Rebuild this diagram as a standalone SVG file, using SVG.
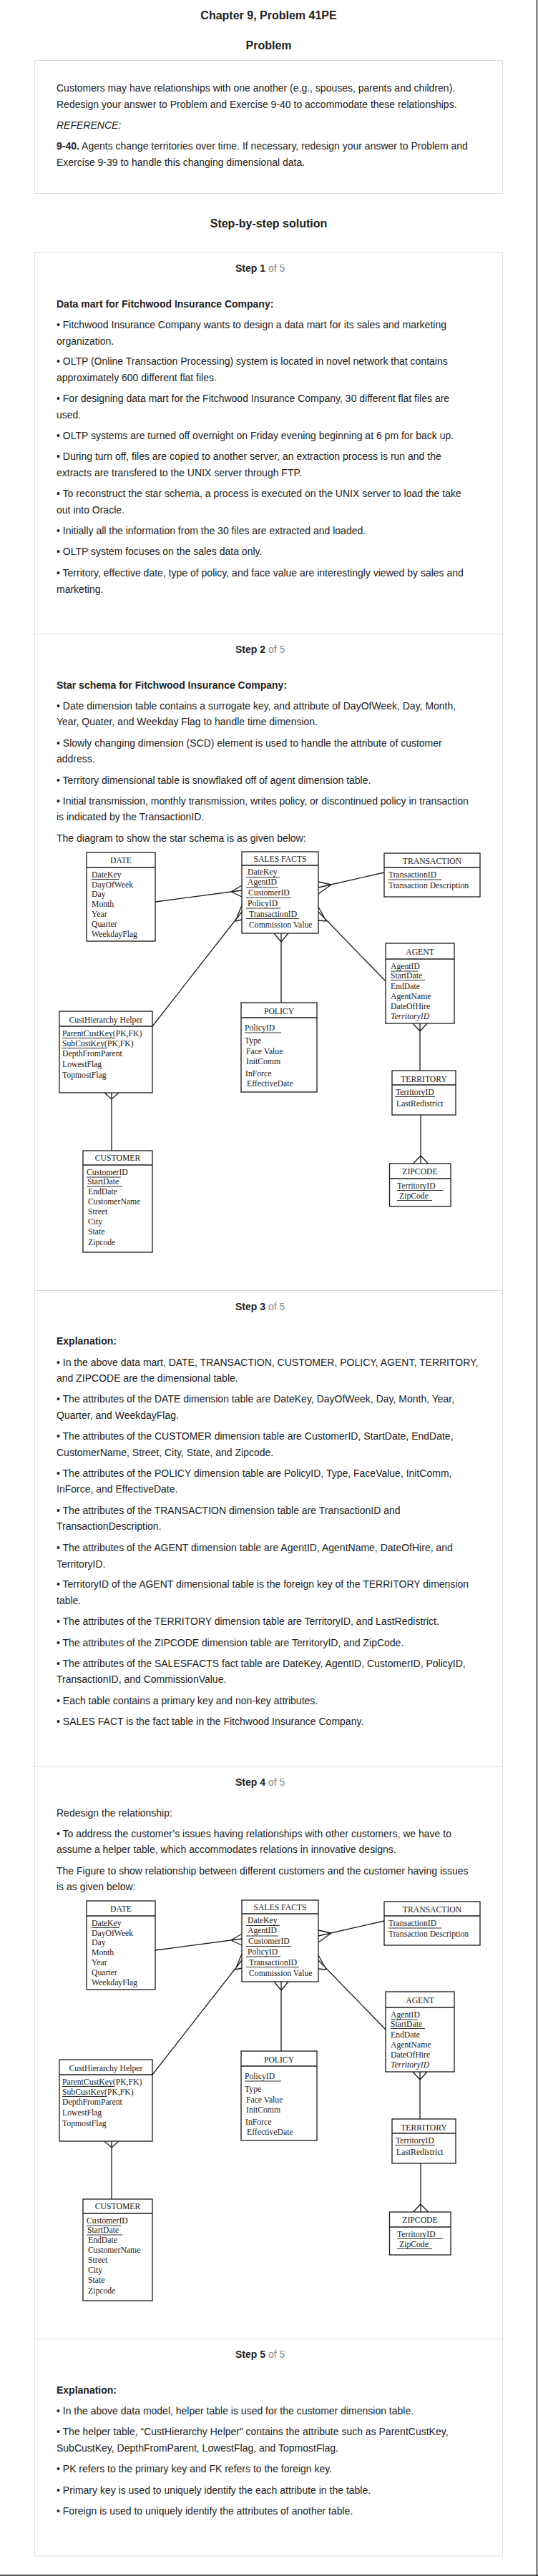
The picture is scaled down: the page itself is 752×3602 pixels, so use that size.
<svg xmlns="http://www.w3.org/2000/svg" width="752" height="3602" viewBox="0 0 752 3602">
<style>
.t{font-family:"Liberation Sans",Arial,sans-serif;font-size:14px;fill:#222}
.b{font-weight:bold}
.i{font-style:italic}
.h{font-family:"Liberation Sans",Arial,sans-serif;font-size:16px;font-weight:bold;fill:#222;text-anchor:middle}
.g{fill:#888;font-weight:normal}
.d{font-family:"Liberation Serif","Times New Roman",serif;font-size:11.7px;fill:#1a1a1a}
.dc{text-anchor:middle}
.box{fill:#fff;stroke:#1a1a1a;stroke-width:1.3}
.sep{stroke:#1a1a1a;stroke-width:1.3}
.ul{stroke:#1a1a1a;stroke-width:0.9}
.cn{stroke:#1a1a1a;stroke-width:1.3;fill:none}
.frame{fill:none;stroke:#dcdcdc;stroke-width:1}
</style>
<rect x="0" y="0" width="752" height="3602" fill="#fff"/>
<g id="page-frame">
  <line x1="750.5" y1="0" x2="750.5" y2="3602" stroke="#1a1a1a" stroke-width="1.4"/>
  <line x1="0" y1="3601" x2="752" y2="3601" stroke="#1a1a1a" stroke-width="1.6"/>
</g>
<g id="headings">
  <text class="h" x="375.5" y="27">Chapter 9, Problem 41PE</text>
  <text class="h" x="375.5" y="69">Problem</text>
  <text class="h" x="375.5" y="318">Step-by-step solution</text>
</g>
<g id="problem-box">
  <rect class="frame" x="48.5" y="84.5" width="654" height="186"/>
  <text class="t" x="79" y="128">Customers may have relationships with one another (e.g., spouses, parents and children).</text>
  <text class="t" x="79" y="151">Redesign your answer to Problem and Exercise 9-40 to accommodate these relationships.</text>
  <text class="t i" x="79" y="180">REFERENCE:</text>
  <text class="t" x="79" y="209"><tspan class="b">9-40.</tspan> Agents change territories over time. If necessary, redesign your answer to Problem and</text>
  <text class="t" x="79" y="232">Exercise 9-39 to handle this changing dimensional data.</text>
</g>
<g id="steps-frame">
  <rect class="frame" x="48.5" y="353.5" width="654" height="3220.5"/>
  <line class="frame" x1="48.5" y1="886.5" x2="702.5" y2="886.5"/>
  <line class="frame" x1="48.5" y1="1804.5" x2="702.5" y2="1804.5"/>
  <line class="frame" x1="48.5" y1="2470.5" x2="702.5" y2="2470.5"/>
  <line class="frame" x1="48.5" y1="3270.5" x2="702.5" y2="3270.5"/>
</g>
<g id="step1">
  <text class="t b" x="329" y="380">Step 1<tspan class="g"> of 5</tspan></text>
  <text class="t b" x="79" y="430">Data mart for Fitchwood Insurance Company:</text>
  <text class="t" x="79" y="459">• Fitchwood Insurance Company wants to design a data mart for its sales and marketing</text>
  <text class="t" x="79" y="482">organization.</text>
  <text class="t" x="79" y="510">• OLTP (Online Transaction Processing) system is located in novel network that contains</text>
  <text class="t" x="79" y="533">approximately 600 different flat files.</text>
  <text class="t" x="79" y="562">• For designing data mart for the Fitchwood Insurance Company, 30 different flat files are</text>
  <text class="t" x="79" y="585">used.</text>
  <text class="t" x="79" y="614">• OLTP systems are turned off overnight on Friday evening beginning at 6 pm for back up.</text>
  <text class="t" x="79" y="643">• During turn off, files are copied to another server, an extraction process is run and the</text>
  <text class="t" x="79" y="666">extracts are transfered to the UNIX server through FTP.</text>
  <text class="t" x="79" y="695">• To reconstruct the star schema, a process is executed on the UNIX server to load the take</text>
  <text class="t" x="79" y="718">out into Oracle.</text>
  <text class="t" x="79" y="747">• Initially all the information from the 30 files are extracted and loaded.</text>
  <text class="t" x="79" y="776">• OLTP system focuses on the sales data only.</text>
  <text class="t" x="79" y="806">• Territory, effective date, type of policy, and face value are interestingly viewed by sales and</text>
  <text class="t" x="79" y="829">marketing.</text>
</g>
<g id="step2">
  <text class="t b" x="329" y="913">Step 2<tspan class="g"> of 5</tspan></text>
  <text class="t b" x="79" y="963">Star schema for Fitchwood Insurance Company:</text>
  <text class="t" x="79" y="992">• Date dimension table contains a surrogate key, and attribute of DayOfWeek, Day, Month,</text>
  <text class="t" x="79" y="1014">Year, Quater, and Weekday Flag to handle time dimension.</text>
  <text class="t" x="79" y="1044">• Slowly changing dimension (SCD) element is used to handle the attribute of customer</text>
  <text class="t" x="79" y="1066">address.</text>
  <text class="t" x="79" y="1096">• Territory dimensional table is snowflaked off of agent dimension table.</text>
  <text class="t" x="79" y="1125">• Initial transmission, monthly transmission, writes policy, or discontinued policy in transaction</text>
  <text class="t" x="79" y="1147">is indicated by the TransactionID.</text>
  <text class="t" x="79" y="1177">The diagram to show the star schema is as given below:</text>
</g>
<g id="s2-diagram">
  <g id="s2-connectors">
    <path class="cn" d="M217,1261 L338,1245 M323,1247 L338,1238 M323,1247 L338,1254"/>
    <path class="cn" d="M213,1435 L338,1275 M329,1288 L338,1266 M329,1288 L338,1286"/>
    <path class="cn" d="M537,1220 L445,1241 M463,1237 L445,1233 M463,1237 L445,1250"/>
    <path class="cn" d="M539,1372 L445,1275 M456,1288 L445,1268 M456,1288 L445,1287"/>
    <path class="cn" d="M393,1305 L393,1402 M383,1305 L393,1317 L403,1305"/>
    <path class="cn" d="M587,1431 L587,1497 M577,1431 L587,1442 L597,1431"/>
    <path class="cn" d="M588,1559 L588,1627 M577.5,1627 L588,1616 L598.5,1627"/>
    <path class="cn" d="M156,1528 L156,1609 M146,1528 L156,1537 L166,1528"/>
  </g>
  <g id="s2-date">
    <rect class="box" x="121" y="1192" width="96" height="124"/>
    <line class="sep" x1="121" y1="1213" x2="217" y2="1213"/>
    <text class="d dc" x="169" y="1207">DATE</text>
    <text class="d" x="128" y="1227">DateKey</text>
    <line class="ul" x1="128" y1="1229.5" x2="166" y2="1229.5"/>
    <text class="d" x="128" y="1241">DayOfWeek</text>
    <text class="d" x="128" y="1254">Day</text>
    <text class="d" x="128" y="1268">Month</text>
    <text class="d" x="128" y="1282">Year</text>
    <text class="d" x="128" y="1296">Quarter</text>
    <text class="d" x="128" y="1310">WeekdayFlag</text>
  </g>
  <g id="s2-salesfacts">
    <rect class="box" x="338" y="1191" width="107" height="114"/>
    <line class="sep" x1="338" y1="1210" x2="445" y2="1210"/>
    <text class="d dc" x="391.5" y="1205">SALES FACTS</text>
    <text class="d" x="346" y="1223">DateKey</text>
    <line class="ul" x1="344" y1="1226.5" x2="391" y2="1226.5"/>
    <text class="d" x="346" y="1237">AgentID</text>
    <line class="ul" x1="344" y1="1241" x2="389" y2="1241"/>
    <text class="d" x="347" y="1252">CustomerID</text>
    <line class="ul" x1="344" y1="1255.5" x2="407" y2="1255.5"/>
    <text class="d" x="346" y="1267">PolicyID</text>
    <line class="ul" x1="344" y1="1270" x2="392" y2="1270"/>
    <text class="d" x="348" y="1282">TransactionID</text>
    <line class="ul" x1="344" y1="1284.5" x2="418" y2="1284.5"/>
    <text class="d" x="348" y="1297">Commission Value</text>
  </g>
  <g id="s2-transaction">
    <rect class="box" x="537" y="1193" width="134" height="61"/>
    <line class="sep" x1="537" y1="1213" x2="671" y2="1213"/>
    <text class="d dc" x="604" y="1208">TRANSACTION</text>
    <text class="d" x="543" y="1227">TransactionID</text>
    <line class="ul" x1="543" y1="1230" x2="617" y2="1230"/>
    <text class="d" x="543" y="1242">Transaction Description</text>
  </g>
  <g id="s2-agent">
    <rect class="box" x="539" y="1319" width="96" height="112"/>
    <line class="sep" x1="539" y1="1341" x2="635" y2="1341"/>
    <text class="d dc" x="587" y="1335">AGENT</text>
    <text class="d" x="546" y="1355">AgentID</text>
    <line class="ul" x1="546" y1="1358" x2="584" y2="1358"/>
    <text class="d" x="546" y="1368">StartDate</text>
    <line class="ul" x1="546" y1="1370.5" x2="594" y2="1370.5"/>
    <text class="d" x="546" y="1383">EndDate</text>
    <text class="d" x="546" y="1397">AgentName</text>
    <text class="d" x="546" y="1411">DateOfHire</text>
    <text class="d i" x="546" y="1425">TerritoryID</text>
  </g>
  <g id="s2-policy">
    <rect class="box" x="337" y="1402" width="106" height="125"/>
    <line class="sep" x1="337" y1="1423" x2="443" y2="1423"/>
    <text class="d dc" x="390" y="1418">POLICY</text>
    <text class="d" x="342" y="1441">PolicyID</text>
    <line class="ul" x1="342" y1="1444" x2="393" y2="1444"/>
    <text class="d" x="342" y="1459">Type</text>
    <text class="d" x="344" y="1474">Face Value</text>
    <text class="d" x="344" y="1488">InitComm</text>
    <text class="d" x="343" y="1505">InForce</text>
    <text class="d" x="345" y="1519">EffectiveDate</text>
  </g>
  <g id="s2-territory">
    <rect class="box" x="548" y="1497" width="89" height="62"/>
    <line class="sep" x1="548" y1="1517" x2="637" y2="1517"/>
    <text class="d dc" x="592.5" y="1513">TERRITORY</text>
    <text class="d" x="553" y="1531">TerritoryID</text>
    <line class="ul" x1="552" y1="1533.5" x2="608" y2="1533.5"/>
    <text class="d" x="554" y="1547">LastRedistrict</text>
  </g>
  <g id="s2-zipcode">
    <rect class="box" x="544.5" y="1627" width="85.5" height="60"/>
    <line class="sep" x1="544.5" y1="1648" x2="630" y2="1648"/>
    <text class="d dc" x="587" y="1642">ZIPCODE</text>
    <text class="d" x="555" y="1662">TerritoryID</text>
    <line class="ul" x1="555" y1="1664.5" x2="619" y2="1664.5"/>
    <text class="d" x="558" y="1676">ZipCode</text>
    <line class="ul" x1="555" y1="1678.5" x2="604" y2="1678.5"/>
  </g>
  <g id="s2-custhierarchy">
    <rect class="box" x="83" y="1414" width="130" height="114"/>
    <line class="sep" x1="83" y1="1435" x2="213" y2="1435"/>
    <text class="d dc" x="148" y="1430">CustHierarchy Helper</text>
    <text class="d" x="87" y="1449">ParentCustKey(PK,FK)</text>
    <line class="ul" x1="87" y1="1451.5" x2="160" y2="1451.5"/>
    <text class="d" x="87" y="1463">SubCustKey(PK,FK)</text>
    <line class="ul" x1="87" y1="1465.5" x2="149" y2="1465.5"/>
    <text class="d" x="87" y="1477">DepthFromParent</text>
    <text class="d" x="87" y="1492">LowestFlag</text>
    <text class="d" x="87" y="1507">TopmostFlag</text>
  </g>
  <g id="s2-customer">
    <rect class="box" x="116" y="1609" width="97" height="142"/>
    <line class="sep" x1="116" y1="1629" x2="213" y2="1629"/>
    <text class="d dc" x="164.5" y="1623">CUSTOMER</text>
    <text class="d" x="121" y="1643">CustomerID</text>
    <line class="ul" x1="121" y1="1646" x2="169" y2="1646"/>
    <text class="d" x="122" y="1656">StartDate</text>
    <line class="ul" x1="121" y1="1659" x2="171" y2="1659"/>
    <text class="d" x="123" y="1670">EndDate</text>
    <text class="d" x="123" y="1684">CustomerName</text>
    <text class="d" x="123" y="1698">Street</text>
    <text class="d" x="123" y="1712">City</text>
    <text class="d" x="123" y="1726">State</text>
    <text class="d" x="123" y="1741">Zipcode</text>
  </g>
</g>
<g id="step3">
  <text class="t b" x="329" y="1832">Step 3<tspan class="g"> of 5</tspan></text>
  <text class="t b" x="79" y="1880">Explanation:</text>
  <text class="t" x="79" y="1910">• In the above data mart, DATE, TRANSACTION, CUSTOMER, POLICY, AGENT, TERRITORY,</text>
  <text class="t" x="79" y="1932">and ZIPCODE are the dimensional table.</text>
  <text class="t" x="79" y="1961">• The attributes of the DATE dimension table are DateKey, DayOfWeek, Day, Month, Year,</text>
  <text class="t" x="79" y="1984">Quarter, and WeekdayFlag.</text>
  <text class="t" x="79" y="2013">• The attributes of the CUSTOMER dimension table are CustomerID, StartDate, EndDate,</text>
  <text class="t" x="79" y="2036">CustomerName, Street, City, State, and Zipcode.</text>
  <text class="t" x="79" y="2065">• The attributes of the POLICY dimension table are PolicyID, Type, FaceValue, InitComm,</text>
  <text class="t" x="79" y="2087">InForce, and EffectiveDate.</text>
  <text class="t" x="79" y="2117">• The attributes of the TRANSACTION dimension table are TransactionID and</text>
  <text class="t" x="79" y="2139">TransactionDescription.</text>
  <text class="t" x="79" y="2169">• The attributes of the AGENT dimension table are AgentID, AgentName, DateOfHire, and</text>
  <text class="t" x="79" y="2192">TerritoryID.</text>
  <text class="t" x="79" y="2220">• TerritoryID of the AGENT dimensional table is the foreign key of the TERRITORY dimension</text>
  <text class="t" x="79" y="2243">table.</text>
  <text class="t" x="79" y="2272">• The attributes of the TERRITORY dimension table are TerritoryID, and LastRedistrict.</text>
  <text class="t" x="79" y="2302">• The attributes of the ZIPCODE dimension table are TerritoryID, and ZipCode.</text>
  <text class="t" x="79" y="2331">• The attributes of the SALESFACTS fact table are DateKey, AgentID, CustomerID, PolicyID,</text>
  <text class="t" x="79" y="2353">TransactionID, and CommissionValue.</text>
  <text class="t" x="79" y="2383">• Each table contains a primary key and non-key attributes.</text>
  <text class="t" x="79" y="2412">• SALES FACT is the fact table in the Fitchwood Insurance Company.</text>
</g>
<g id="step4">
  <text class="t b" x="329" y="2497">Step 4<tspan class="g"> of 5</tspan></text>
  <text class="t" x="79" y="2540">Redesign the relationship:</text>
  <text class="t" x="79" y="2569">• To address the customer’s issues having relationships with other customers, we have to</text>
  <text class="t" x="79" y="2591">assume a helper table, which accommodates relations in innovative designs.</text>
  <text class="t" x="79" y="2621">The Figure to show relationship between different customers and the customer having issues</text>
  <text class="t" x="79" y="2643">is as given below:</text>
</g>
<g id="s4-diagram" transform="translate(0,1466)">
  <g id="s4-connectors">
    <path class="cn" d="M217,1261 L338,1245 M323,1247 L338,1238 M323,1247 L338,1254"/>
    <path class="cn" d="M213,1435 L338,1275 M329,1288 L338,1266 M329,1288 L338,1286"/>
    <path class="cn" d="M537,1220 L445,1241 M463,1237 L445,1233 M463,1237 L445,1250"/>
    <path class="cn" d="M539,1372 L445,1275 M456,1288 L445,1268 M456,1288 L445,1287"/>
    <path class="cn" d="M393,1305 L393,1402 M383,1305 L393,1317 L403,1305"/>
    <path class="cn" d="M587,1431 L587,1497 M577,1431 L587,1442 L597,1431"/>
    <path class="cn" d="M588,1559 L588,1627 M577.5,1627 L588,1616 L598.5,1627"/>
    <path class="cn" d="M156,1528 L156,1609 M146,1528 L156,1537 L166,1528"/>
  </g>
  <g id="s4-date">
    <rect class="box" x="121" y="1192" width="96" height="124"/>
    <line class="sep" x1="121" y1="1213" x2="217" y2="1213"/>
    <text class="d dc" x="169" y="1207">DATE</text>
    <text class="d" x="128" y="1227">DateKey</text>
    <line class="ul" x1="128" y1="1229.5" x2="166" y2="1229.5"/>
    <text class="d" x="128" y="1241">DayOfWeek</text>
    <text class="d" x="128" y="1254">Day</text>
    <text class="d" x="128" y="1268">Month</text>
    <text class="d" x="128" y="1282">Year</text>
    <text class="d" x="128" y="1296">Quarter</text>
    <text class="d" x="128" y="1310">WeekdayFlag</text>
  </g>
  <g id="s4-salesfacts">
    <rect class="box" x="338" y="1191" width="107" height="114"/>
    <line class="sep" x1="338" y1="1210" x2="445" y2="1210"/>
    <text class="d dc" x="391.5" y="1205">SALES FACTS</text>
    <text class="d" x="346" y="1223">DateKey</text>
    <line class="ul" x1="344" y1="1226.5" x2="391" y2="1226.5"/>
    <text class="d" x="346" y="1237">AgentID</text>
    <line class="ul" x1="344" y1="1241" x2="389" y2="1241"/>
    <text class="d" x="347" y="1252">CustomerID</text>
    <line class="ul" x1="344" y1="1255.5" x2="407" y2="1255.5"/>
    <text class="d" x="346" y="1267">PolicyID</text>
    <line class="ul" x1="344" y1="1270" x2="392" y2="1270"/>
    <text class="d" x="348" y="1282">TransactionID</text>
    <line class="ul" x1="344" y1="1284.5" x2="418" y2="1284.5"/>
    <text class="d" x="348" y="1297">Commission Value</text>
  </g>
  <g id="s4-transaction">
    <rect class="box" x="537" y="1193" width="134" height="61"/>
    <line class="sep" x1="537" y1="1213" x2="671" y2="1213"/>
    <text class="d dc" x="604" y="1208">TRANSACTION</text>
    <text class="d" x="543" y="1227">TransactionID</text>
    <line class="ul" x1="543" y1="1230" x2="617" y2="1230"/>
    <text class="d" x="543" y="1242">Transaction Description</text>
  </g>
  <g id="s4-agent">
    <rect class="box" x="539" y="1319" width="96" height="112"/>
    <line class="sep" x1="539" y1="1341" x2="635" y2="1341"/>
    <text class="d dc" x="587" y="1335">AGENT</text>
    <text class="d" x="546" y="1355">AgentID</text>
    <line class="ul" x1="546" y1="1358" x2="584" y2="1358"/>
    <text class="d" x="546" y="1368">StartDate</text>
    <line class="ul" x1="546" y1="1370.5" x2="594" y2="1370.5"/>
    <text class="d" x="546" y="1383">EndDate</text>
    <text class="d" x="546" y="1397">AgentName</text>
    <text class="d" x="546" y="1411">DateOfHire</text>
    <text class="d i" x="546" y="1425">TerritoryID</text>
  </g>
  <g id="s4-policy">
    <rect class="box" x="337" y="1402" width="106" height="125"/>
    <line class="sep" x1="337" y1="1423" x2="443" y2="1423"/>
    <text class="d dc" x="390" y="1418">POLICY</text>
    <text class="d" x="342" y="1441">PolicyID</text>
    <line class="ul" x1="342" y1="1444" x2="393" y2="1444"/>
    <text class="d" x="342" y="1459">Type</text>
    <text class="d" x="344" y="1474">Face Value</text>
    <text class="d" x="344" y="1488">InitComm</text>
    <text class="d" x="343" y="1505">InForce</text>
    <text class="d" x="345" y="1519">EffectiveDate</text>
  </g>
  <g id="s4-territory">
    <rect class="box" x="548" y="1497" width="89" height="62"/>
    <line class="sep" x1="548" y1="1517" x2="637" y2="1517"/>
    <text class="d dc" x="592.5" y="1513">TERRITORY</text>
    <text class="d" x="553" y="1531">TerritoryID</text>
    <line class="ul" x1="552" y1="1533.5" x2="608" y2="1533.5"/>
    <text class="d" x="554" y="1547">LastRedistrict</text>
  </g>
  <g id="s4-zipcode">
    <rect class="box" x="544.5" y="1627" width="85.5" height="60"/>
    <line class="sep" x1="544.5" y1="1648" x2="630" y2="1648"/>
    <text class="d dc" x="587" y="1642">ZIPCODE</text>
    <text class="d" x="555" y="1662">TerritoryID</text>
    <line class="ul" x1="555" y1="1664.5" x2="619" y2="1664.5"/>
    <text class="d" x="558" y="1676">ZipCode</text>
    <line class="ul" x1="555" y1="1678.5" x2="604" y2="1678.5"/>
  </g>
  <g id="s4-custhierarchy">
    <rect class="box" x="83" y="1414" width="130" height="114"/>
    <line class="sep" x1="83" y1="1435" x2="213" y2="1435"/>
    <text class="d dc" x="148" y="1430">CustHierarchy Helper</text>
    <text class="d" x="87" y="1449">ParentCustKey(PK,FK)</text>
    <line class="ul" x1="87" y1="1451.5" x2="160" y2="1451.5"/>
    <text class="d" x="87" y="1463">SubCustKey(PK,FK)</text>
    <line class="ul" x1="87" y1="1465.5" x2="149" y2="1465.5"/>
    <text class="d" x="87" y="1477">DepthFromParent</text>
    <text class="d" x="87" y="1492">LowestFlag</text>
    <text class="d" x="87" y="1507">TopmostFlag</text>
  </g>
  <g id="s4-customer">
    <rect class="box" x="116" y="1609" width="97" height="142"/>
    <line class="sep" x1="116" y1="1629" x2="213" y2="1629"/>
    <text class="d dc" x="164.5" y="1623">CUSTOMER</text>
    <text class="d" x="121" y="1643">CustomerID</text>
    <line class="ul" x1="121" y1="1646" x2="169" y2="1646"/>
    <text class="d" x="122" y="1656">StartDate</text>
    <line class="ul" x1="121" y1="1659" x2="171" y2="1659"/>
    <text class="d" x="123" y="1670">EndDate</text>
    <text class="d" x="123" y="1684">CustomerName</text>
    <text class="d" x="123" y="1698">Street</text>
    <text class="d" x="123" y="1712">City</text>
    <text class="d" x="123" y="1726">State</text>
    <text class="d" x="123" y="1741">Zipcode</text>
  </g>
</g>
<g id="step5">
  <text class="t b" x="329" y="3297">Step 5<tspan class="g"> of 5</tspan></text>
  <text class="t b" x="79" y="3347">Explanation:</text>
  <text class="t" x="79" y="3376">• In the above data model, helper table is used for the customer dimension table.</text>
  <text class="t" x="79" y="3405">• The helper table, “CustHierarchy Helper” contains the attribute such as ParentCustKey,</text>
  <text class="t" x="79" y="3428">SubCustKey, DepthFromParent, LowestFlag, and TopmostFlag.</text>
  <text class="t" x="79" y="3457">• PK refers to the primary key and FK refers to the foreign key.</text>
  <text class="t" x="79" y="3487">• Primary key is used to uniquely identify the each attribute in the table.</text>
  <text class="t" x="79" y="3516">• Foreign is used to uniquely identify the attributes of another table.</text>
</g>
</svg>
